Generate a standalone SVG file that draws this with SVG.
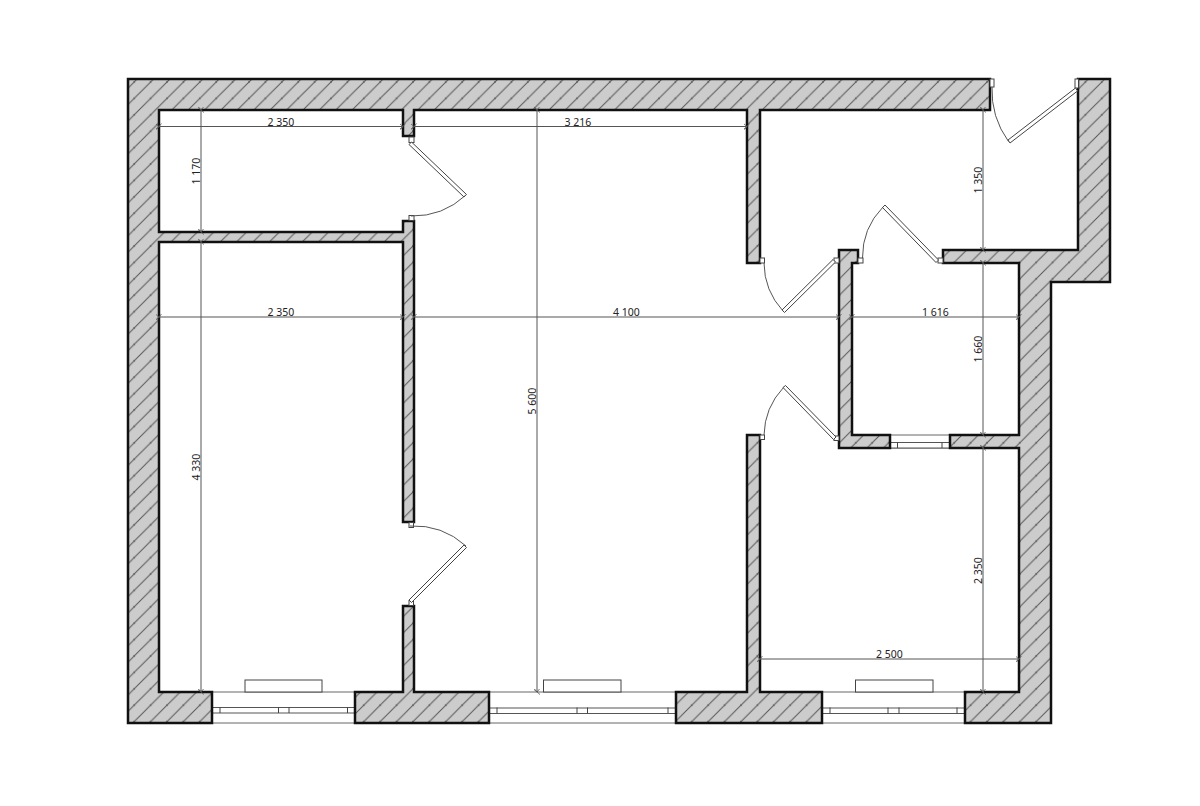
<svg xmlns="http://www.w3.org/2000/svg" width="1200" height="806" viewBox="0 0 1200 806">
<style>
.wall{fill:url(#hatch);stroke:#111;stroke-width:2.5;stroke-linejoin:miter}
.thin{fill:#fff;stroke:#444;stroke-width:1}
.leaf{fill:#fff;stroke:#444;stroke-width:1}
.arc{fill:none;stroke:#555;stroke-width:1}
.gl{fill:none;stroke:#666;stroke-width:1}
.sash{fill:#fff;stroke:#555;stroke-width:1}
.tick{stroke:#444;stroke-width:1}
.dim{fill:none;stroke:#555;stroke-width:1;marker-start:url(#tk);marker-end:url(#tk)}
text{font-family:"Noto Sans","Open Sans","Liberation Sans",sans-serif;font-size:10.5px;fill:#222;text-anchor:middle}
</style>
<defs>
<pattern id="hatch" patternUnits="userSpaceOnUse" width="16.4" height="16.4" patternTransform="translate(3 0)">
<rect width="16.4" height="16.4" fill="#cccccc"/>
<path d="M-1 1.4 1.4-1M-1 17.4 17.4-1M15 17.4 17.4 15" stroke="#555" stroke-width="1" fill="none"/>
</pattern>
<marker id="tk" markerUnits="userSpaceOnUse" markerWidth="12" markerHeight="12" refX="6" refY="6" orient="auto" overflow="visible">
<path d="M3.5 9 8.5 3M3 3.5 6 6 3 8.5" fill="none" stroke="#555" stroke-width=".8"/>
</marker>
</defs>
<rect width="1200" height="806" fill="#fff"/>

<g id="windows">
<g id="window-left">
<path class="gl" d="M212 692H355M212 723H355"/>
<rect class="thin" x="245" y="680" width="77" height="12"/>
<rect class="sash" x="212" y="707.500" width="143" height="5.500"/>
<path class="tick" d="M220 707V713M278.500 707V713M289 707V713M347.500 707V713"/>
</g>
<g id="window-middle">
<path class="gl" d="M489 692H676M489 723H676"/>
<rect class="thin" x="543.500" y="680" width="77.500" height="12"/>
<rect class="sash" x="489" y="708" width="187" height="5.500"/>
<path class="tick" d="M497 707.500V713.500M577 707.500V713.500M587.500 707.500V713.500M668 707.500V713.500"/>
</g>
<g id="window-right">
<path class="gl" d="M822 692H965M822 723H965"/>
<rect class="thin" x="855.500" y="680" width="77.500" height="12"/>
<rect class="sash" x="822" y="708" width="143" height="5.500"/>
<path class="tick" d="M830 707.500V713.500M888 707.500V713.500M899 707.500V713.500M957 707.500V713.500"/>
</g>
<g id="window-small">
<path class="gl" d="M890 435H950M890 448H950"/>
<rect class="sash" x="890" y="442.500" width="60" height="5.500"/>
<path class="tick" d="M897.500 442.500V448M942 442.500V448"/>
</g>
</g>

<g id="walls">
<path id="wall-main" class="wall" d="M128 79H990V110H760V263H747V110H414V136H403V110H159V232H403V221H414V522H403V242H159V692H212V723H128Z"/>
<path id="wall-bottom-a" class="wall" d="M355 692H403V606H414V692H489V723H355Z"/>
<path id="wall-bottom-b" class="wall" d="M676 692H747V435H760V692H822V723H676Z"/>
<path id="wall-east" class="wall" d="M965 692H1019V448H950V435H1019V263H943V250H1078V79H1110V282H1051V723H965Z"/>
<path id="wall-closet" class="wall" d="M839 250H858V263H852V435H890V448H839Z"/>
</g>

<g id="doors">
<g id="door-a">
<rect class="thin" x="409" y="137" width="5" height="5.500"/>
<rect class="thin" x="409" y="215.500" width="5" height="5"/>
<path class="leaf" d="M411.500 142 409 144.500 464 197 466.500 194.500Z"/>
<path class="arc" d="M466 195A78 78 0 0 1 411 216"/>
</g>
<g id="door-b">
<rect class="thin" x="409" y="522.500" width="4.500" height="5"/>
<rect class="thin" x="409" y="600.500" width="4.500" height="5"/>
<path class="leaf" d="M466.500 547.500 464 545 409 600 411.500 602.500Z"/>
<path class="arc" d="M410 526A78 78 0 0 1 466 546"/>
</g>
<g id="door-c">
<rect class="thin" x="760" y="258" width="4.500" height="5"/>
<rect class="thin" x="834" y="258" width="5" height="5"/>
<path class="leaf" d="M782 310 784.500 312.500 835.500 262 833 259.500Z"/>
<path class="arc" d="M764 263A72 72 0 0 0 783 311"/>
</g>
<g id="door-d">
<rect class="thin" x="858" y="258" width="5" height="5"/>
<rect class="thin" x="938" y="258" width="5" height="5"/>
<path class="leaf" d="M882.500 207.500 885 205 938.500 260 936 262.500Z"/>
<path class="arc" d="M862.500 258A72 72 0 0 1 883 207"/>
</g>
<g id="door-e">
<rect class="thin" x="760" y="435" width="4.500" height="4.500"/>
<rect class="thin" x="834" y="436" width="5" height="4.500"/>
<path class="leaf" d="M783 387.500 785.500 385.500 836 437 833.500 439.500Z"/>
<path class="arc" d="M764 435A72 72 0 0 1 783.500 387.500"/>
</g>
<g id="door-f">
<rect class="thin" x="990" y="79" width="4" height="8"/>
<rect class="thin" x="1075" y="79" width="3.500" height="9"/>
<path class="leaf" d="M1008 140 1010 143 1077.500 91 1075.500 88Z"/>
<path class="arc" d="M992 87A88 88 0 0 0 1008.500 141.500"/>
</g>
</g>

<g id="dimensions">
<path class="dim" d="M159 126.500H403"/>
<path class="dim" d="M414 126.500H747"/>
<path class="dim" d="M159 317H403"/>
<path class="dim" d="M414 317H839"/>
<path class="dim" d="M852 317H1019"/>
<path class="dim" d="M760 659H1019"/>
<path class="dim" d="M201 110V232"/>
<path class="dim" d="M201 242V692"/>
<path class="dim" d="M537 110V692"/>
<path class="dim" d="M983 110V250"/>
<path class="dim" d="M983 263V435"/>
<path class="dim" d="M983 448V692"/>
<text x="281" y="125.500">2 350</text>
<text x="578" y="125.500">3 216</text>
<text x="281" y="316">2 350</text>
<text x="626.500" y="316">4 100</text>
<text x="935.500" y="316">1 616</text>
<text x="889.500" y="658">2 500</text>
<text transform="translate(200 171) rotate(-90)">1 170</text>
<text transform="translate(200 467) rotate(-90)">4 330</text>
<text transform="translate(536 401) rotate(-90)">5 600</text>
<text transform="translate(982 180) rotate(-90)">1 350</text>
<text transform="translate(982 349) rotate(-90)">1 660</text>
<text transform="translate(982 570.500) rotate(-90)">2 350</text>
</g>
</svg>
